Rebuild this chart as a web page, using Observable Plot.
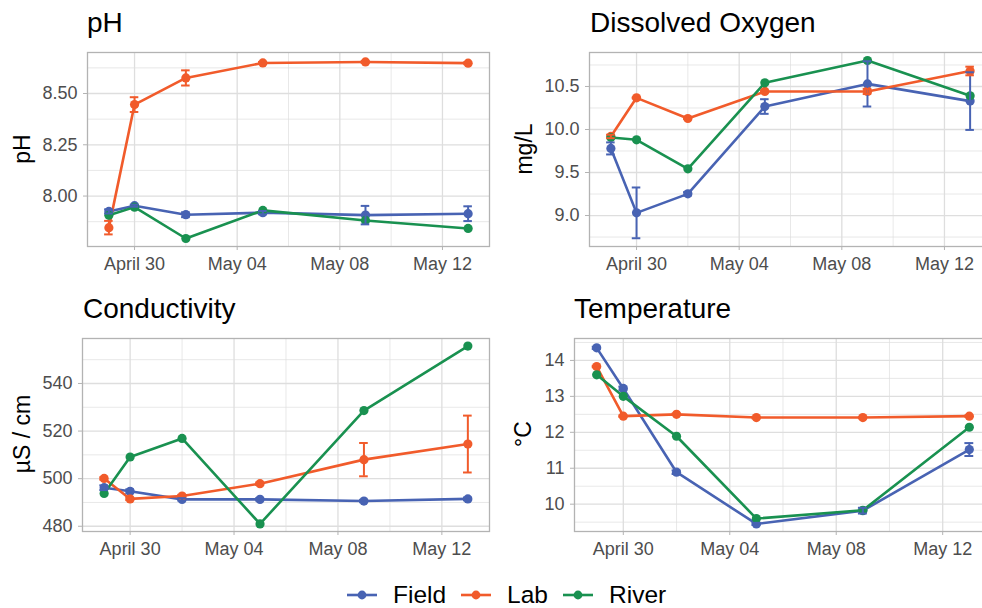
<!DOCTYPE html>
<html>
<head>
<meta charset="utf-8">
<script src="https://cdn.jsdelivr.net/npm/d3@7"></script>
<script src="https://cdn.jsdelivr.net/npm/@observablehq/plot@0.6"></script>
<style>
html, body { margin: 0; padding: 0; background: #fff; overflow: hidden; }
#root { position: relative; width: 982px; height: 608px; overflow: hidden; font-family: "Liberation Sans", Arial, sans-serif; background: #fff; }
.title { position: absolute; font-size: 28px; line-height: 28px; color: #000; white-space: nowrap; }
.ylab { position: absolute; font-size: 23px; line-height: 23px; color: #000; white-space: nowrap; transform: translate(-50%, -50%) rotate(-90deg); }
.panel { position: absolute; }
#legend { position: absolute; left: 347px; top: 580px; height: 30px; display: flex; align-items: center; font-size: 24.5px; color: #000; }
#legend .item { display: flex; align-items: center; margin-right: 15px; }
#legend svg { margin-right: 16px; }
</style>
</head>
<body>
<div id="root"></div>
<script>
// ---------- data ----------
const dates = ["2021-04-29", "2021-04-30", "2021-05-02", "2021-05-05", "2021-05-09", "2021-05-13"];
const series = ["Field", "Lab", "River"];
const colors = ["#4863b3", "#f15b2b", "#199150"];
const xTickDates = ["2021-04-30", "2021-05-04", "2021-05-08", "2021-05-12"];

const phField = [7.925, 7.953, 7.909, 7.919, 7.907, 7.914];
const phFieldErr = [0.010, 0.005, 0.012, 0.008, 0.045, 0.036];
const phLab = [7.846, 8.446, 8.576, 8.649, 8.654, 8.648];
const phLabErr = [0.033, 0.036, 0.037, 0.005, 0.005, 0.005];
const phRiver = [7.906, 7.946, 7.793, 7.930, 7.881, 7.842];
const phTicks = [8.00, 8.25, 8.50];

const doField = [9.78, 9.031, 9.252, 10.267, 10.53, 10.33];
const doFieldErr = [0.07, 0.295, 0.02, 0.085, 0.263, 0.335];
const doLab = [9.919, 10.368, 10.128, 10.442, 10.442, 10.68];
const doLabErr = [0.02, 0.005, 0.005, 0.01, 0.03, 0.05];
const doRiver = [9.907, 9.88, 9.543, 10.543, 10.802, 10.392];
const doTicks = [9.0, 9.5, 10.0, 10.5];

const condField = [496.2, 494.7, 491.3, 491.3, 490.6, 491.5];
const condFieldErr = [1.0, 0.8, 0.5, 0.5, 0.5, 0.6];
const condLab = [500.1, 491.5, 492.7, 497.9, 508.0, 514.55];
const condLabErr = [0.5, 0.5, 0.5, 0.5, 7.0, 11.95];
const condRiver = [493.8, 509.1, 516.9, 481.0, 528.6, 555.7];
const condTicks = [480, 500, 520, 540];

const tempField = [14.35, 13.22, 10.89, 9.45, 9.82, 11.52];
const tempFieldErr = [0.03, 0.05, 0.05, 0.03, 0.08, 0.18];
const tempLab = [13.83, 12.45, 12.50, 12.41, 12.41, 12.45];
const tempLabErr = [0.02, 0.02, 0.02, 0.02, 0.02, 0.02];
const tempRiver = [13.60, 13.00, 11.89, 9.60, 9.83, 12.14];
const tempTicks = [10, 11, 12, 13, 14];

// ---------- helpers ----------
const parse = s => new Date(s + "T00:00:00Z");
const xDomain = [new Date(Date.UTC(2021, 3, 28, 4)), new Date(Date.UTC(2021, 4, 13, 20))];
const xTicks = xTickDates.map(parse);
const xMinor = d3.pairs(xTicks).map(([a, b]) => new Date((+a + +b) / 2));
const halfCap = 4 * 3600e3;
const fontFamily = "'Liberation Sans', Arial, sans-serif";

function midpoints(ticks, domain) {
  const step = ticks[1] - ticks[0];
  const out = [];
  for (let v = ticks[0] - step / 2; v <= domain[1]; v += step) if (v >= domain[0]) out.push(v);
  return out;
}

function panel(opts) {
  const {values, errs, yDomain, yTicks, yFormat, width, height, mL, mR, mT, mB} = opts;
  const rows = [];
  series.forEach((s, i) => values[i].forEach((v, j) => rows.push({
    series: s, date: parse(dates[j]), value: v, err: errs[i] ? errs[i][j] : 0
  })));
  const errRows = rows.filter(d => d.err > 0);
  const yMinor = midpoints(yTicks, yDomain);
  const grid = "#dedede";
  return Plot.plot({
    width, height,
    marginLeft: mL, marginRight: mR, marginTop: mT, marginBottom: mB,
    style: {fontFamily, fontSize: "18px", background: "#fff", overflow: "visible"},
    x: {type: "utc", domain: xDomain},
    y: {domain: yDomain},
    color: {domain: series, range: colors},
    marks: [
      Plot.ruleX(xMinor, {stroke: grid, strokeWidth: 0.7}),
      Plot.ruleY(yMinor, {stroke: grid, strokeWidth: 0.7}),
      Plot.ruleX(xTicks, {stroke: grid, strokeWidth: 1.3}),
      Plot.ruleY(yTicks, {stroke: grid, strokeWidth: 1.3}),
      Plot.line(rows, {x: "date", y: "value", z: "series", stroke: "series", strokeWidth: 2.6}),
      Plot.dot(rows, {x: "date", y: "value", fill: "series", r: 4.6}),
      Plot.ruleX(errRows, {x: "date", y1: d => d.value - d.err, y2: d => d.value + d.err, stroke: "series", strokeWidth: 2}),
      Plot.ruleY(errRows, {y: d => d.value - d.err, x1: d => new Date(+d.date - halfCap), x2: d => new Date(+d.date + halfCap), stroke: "series", strokeWidth: 2}),
      Plot.ruleY(errRows, {y: d => d.value + d.err, x1: d => new Date(+d.date - halfCap), x2: d => new Date(+d.date + halfCap), stroke: "series", strokeWidth: 2}),
      Plot.frame({stroke: "#b3b3b3", strokeWidth: 1.3}),
      Plot.axisX({ticks: xTicks, tickFormat: d3.utcFormat("%B %d"), tickSize: 4, tickPadding: 7, stroke: "#b3b3b3", fill: "#4d4d4d", label: null, fontSize: 18}),
      Plot.axisY({ticks: yTicks, tickFormat: yFormat, tickSize: 4, tickPadding: 6, stroke: "#b3b3b3", fill: "#4d4d4d", label: null, fontSize: 18})
    ]
  });
}

const root = document.getElementById("root");
function place(el, left, top) {
  el.classList.add("panel");
  el.style.left = left + "px";
  el.style.top = top + "px";
  root.appendChild(el);
}
function addDiv(cls, text, left, top) {
  const d = document.createElement("div");
  d.className = cls;
  d.textContent = text;
  d.style.left = left + "px";
  d.style.top = top + "px";
  root.appendChild(d);
}

// pH
place(panel({
  values: [phField, phLab, phRiver], errs: [phFieldErr, phLabErr, null],
  yDomain: [7.754, 8.70], yTicks: phTicks, yFormat: d3.format(".2f"),
  width: 491, height: 290, mL: 87, mR: 2, mT: 52, mB: 44
}), 0, 0);
// Dissolved Oxygen
place(panel({
  values: [doField, doLab, doRiver], errs: [doFieldErr, doLabErr, null],
  yDomain: [8.64, 10.895], yTicks: doTicks, yFormat: d3.format(".1f"),
  width: 502, height: 290, mL: 98, mR: 2, mT: 52, mB: 44
}), 491, 0);
// Conductivity
place(panel({
  values: [condField, condLab, condRiver], errs: [condFieldErr, condLabErr, null],
  yDomain: [477.8, 558.9], yTicks: condTicks, yFormat: d3.format("d"),
  width: 491, height: 275, mL: 82, mR: 2, mT: 48, mB: 34
}), 0, 290);
// Temperature
place(panel({
  values: [tempField, tempLab, tempRiver], errs: [tempFieldErr, tempLabErr, null],
  yDomain: [9.24, 14.61], yTicks: tempTicks, yFormat: d3.format("d"),
  width: 502, height: 275, mL: 83, mR: 2, mT: 48, mB: 34
}), 491, 290);

// titles
addDiv("title", "pH", 87, 9);
addDiv("title", "Dissolved Oxygen", 590, 9);
addDiv("title", "Conductivity", 83, 295);
addDiv("title", "Temperature", 574, 295);
// y labels
addDiv("ylab", "pH", 22, 149);
addDiv("ylab", "mg/L", 524, 149);
addDiv("ylab", "µS / cm", 22, 434);
addDiv("ylab", "°C", 523, 434);

// legend
const legend = document.createElement("div");
legend.id = "legend";
series.forEach((s, i) => {
  const item = document.createElement("div");
  item.className = "item";
  item.innerHTML = `<svg width="30" height="12"><line x1="0" x2="30" y1="6" y2="6" stroke="${colors[i]}" stroke-width="2.6"/><circle cx="15" cy="6" r="4.4" fill="${colors[i]}"/></svg><span>${s}</span>`;
  legend.appendChild(item);
});
root.appendChild(legend);
</script>
</body>
</html>
